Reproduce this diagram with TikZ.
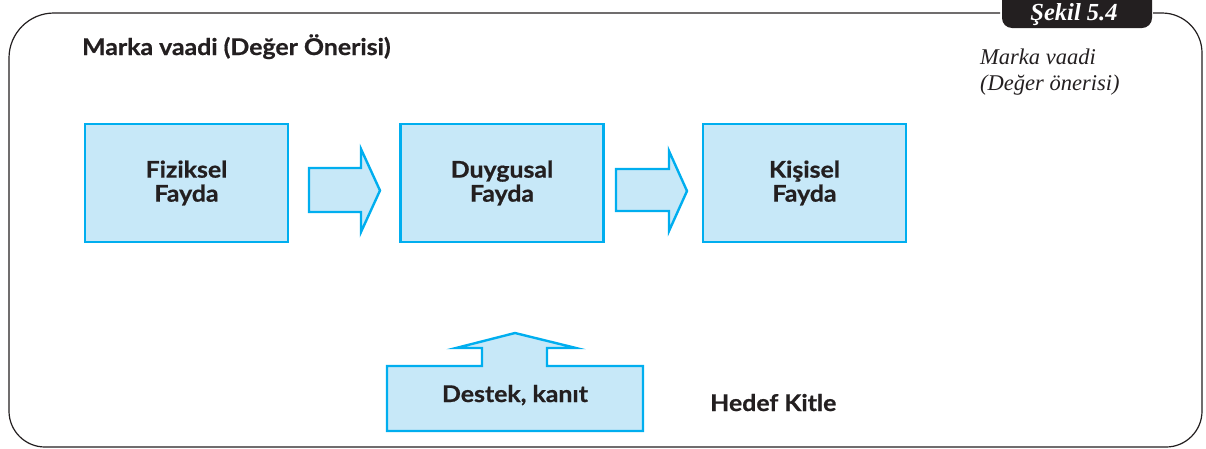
\documentclass[tikz,border=0pt]{standalone}
\usepackage{fontspec}
\setmainfont{Liberation Serif}
\newfontfamily\gill[FakeStretch=1.08,BoldFeatures={FakeBold=0.7}]{Lato}
\usetikzlibrary{positioning}
\definecolor{frameC}{HTML}{231F20}
\definecolor{blueLine}{HTML}{00AEEF}
\definecolor{blueFill}{HTML}{C7E8F8}
\tikzset{
  x=1pt, y=-1pt,
  frameline/.style={draw=frameC, line width=1.2pt},
  bluebox/.style={draw=blueLine, fill=blueFill, line width=2.4pt, minimum width=203pt, minimum height=118pt, inner sep=0pt, align=center, font=\gill\bfseries\fontsize{23}{24}\selectfont, text=frameC},
  blockarrow/.style={draw=blueLine, fill=blueFill, line width=2.4pt, line join=miter},
  sanslabel/.style={inner sep=0pt, font=\gill\bfseries\fontsize{23}{24}\selectfont, text=frameC},
  italiclabel/.style={inner sep=0pt, font=\itshape\fontsize{22.5}{26}\selectfont, text=frameC}
}
\begin{document}
\begin{tikzpicture}
\useasboundingbox (0,0) rectangle (1206,448);
\begin{scope}
\clip (0,0) rectangle (1206,448);
% frame
\draw[frameline] (1000,13) [rounded corners=45pt] -- (9,13) [rounded corners=36pt] -- (9,447) -- (1202,447) [rounded corners=40pt] -- (1202,13) [sharp corners] -- (1153,13);
% tab
\fill[frameC, rounded corners=10pt] (1002,-12) rectangle (1152,28);
\node[inner sep=0pt, anchor=base, text=white, font=\bfseries\itshape\fontsize{24.5}{26}\selectfont] (tab) at (1074,20) {Şekil 5.4};
\end{scope}

\node[sanslabel, anchor=base west] (title) at (82,55) {Marka vaadi (Değer Önerisi)};
\node[italiclabel, anchor=base west] (side1) at (980,64) {Marka vaadi};
\node[italiclabel, anchor=base west] (side2) at (980,90) {(Değer önerisi)};

\node[bluebox] (fiz) at (186.5,183) {Fiziksel\\Fayda};
\node[bluebox] (duy) at (502,183) {Duygusal\\Fayda};
\node[bluebox] (kis) at (804.5,183) {Kişisel\\Fayda};

% block arrows between boxes
\draw[blockarrow] (309,168) -- (361,168) -- (361,149) -- (380,190.5) -- (361,232) -- (361,212) -- (309,212) -- cycle;
\draw[blockarrow] (616,169) -- (669,169) -- (669,151) -- (687,191) -- (669,231) -- (669,211) -- (616,211) -- cycle;

% support box with upward arrow
\draw[blockarrow] (387,431) -- (387,366) -- (482,366) -- (482,348) -- (456,348) -- (515,333) -- (576,348) -- (547,348) -- (547,366) -- (643,366) -- (643,431) -- cycle;
\node[sanslabel, anchor=base] (destek) at (515,402) {Destek, kanıt};

\node[sanslabel, anchor=base west] (hedef) at (710,411) {Hedef Kitle};
\end{tikzpicture}
\end{document}
